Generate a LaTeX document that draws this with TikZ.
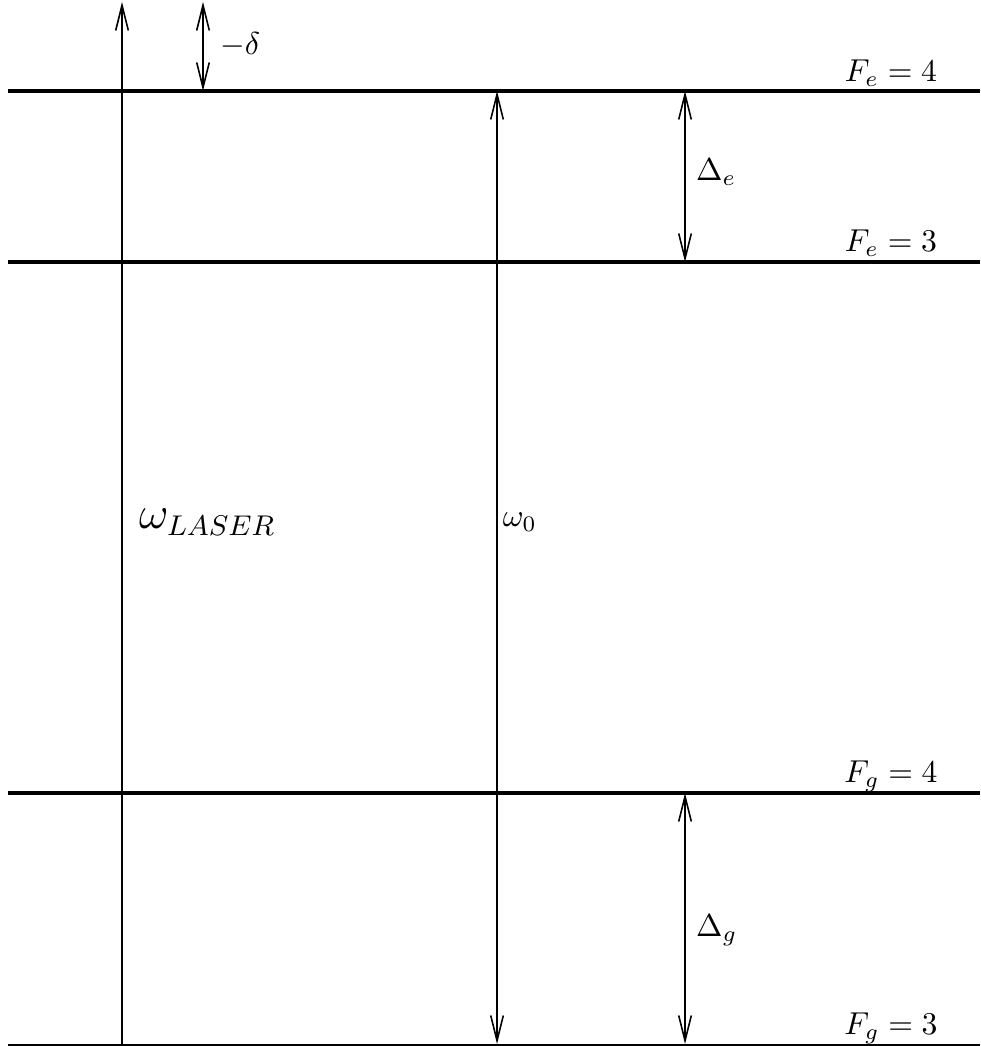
\documentclass[tikz,border=0pt]{standalone}
\usetikzlibrary{arrows.meta}

\begin{document}
\begin{tikzpicture}[
    x=0.0111cm, y=0.0111cm,
    level/.style={line width=1pt},
    transition/.style={line width=0.5pt, arrows={Straight Barb[length=2.8mm,width=1.4mm]-Straight Barb[length=2.8mm,width=1.4mm]}},
    laserline/.style={line width=0.5pt, arrows={-Straight Barb[length=2.8mm,width=1.4mm]}},
    levellabel/.style={anchor=base},
    gaplabel/.style={anchor=west},
]
\useasboundingbox (0,0) rectangle (980,1046);

% Level end points
\coordinate (fe4L) at (8,955);   \coordinate (fe4R) at (980,955);
\coordinate (fe3L) at (8,784);   \coordinate (fe3R) at (980,784);
\coordinate (fg4L) at (8,253);   \coordinate (fg4R) at (980,253);
\coordinate (fg3L) at (8,0);     \coordinate (fg3R) at (980,0);

% Hyperfine levels
\draw[level] (fe4L) -- (fe4R);
\draw[level] (fe3L) -- (fe3R);
\draw[level] (fg4L) -- (fg4R);
\draw[level] (fg3L) -- (fg3R);

\node[levellabel] (lfe4) at (891,964) {$F_e=4$};
\node[levellabel] (lfe3) at (891,794) {$F_e=3$};
\node[levellabel] (lfg4) at (891,263) {$F_g=4$};
\node[levellabel] (lfg3) at (891,11)  {$F_g=3$};

% Arrow end points
\coordinate (laserBot) at (122,0);   \coordinate (laserTop) at (122,1044);
\coordinate (detBot)   at (203,955); \coordinate (detTop)   at (203,1044);
\coordinate (resBot)   at (497,2);   \coordinate (resTop)   at (497,955);
\coordinate (deBot)    at (685,784); \coordinate (deTop)    at (685,955);
\coordinate (dgBot)    at (685,2);   \coordinate (dgTop)    at (685,253);

% Laser, detuning and splittings
\draw[laserline] (laserBot) -- (laserTop);
\draw[transition] (detBot) -- (detTop);
\draw[transition] (resBot) -- (resTop);
\draw[transition] (deBot) -- (deTop);
\draw[transition] (dgBot) -- (dgTop);

\node[gaplabel] (ldet) at (209,1001) {$-\delta$};
\node[gaplabel, font=\fontsize{13.5}{16}\selectfont] (llaser) at (128,524) {$\omega_{LASER}$};
\node[gaplabel, inner sep=1pt] (lres) at (499,524) {$\omega_0$};
\node[gaplabel] (lde) at (685,874) {$\Delta_e$};
\node[gaplabel] (ldg) at (685,116) {$\Delta_g$};

\end{tikzpicture}
\end{document}
